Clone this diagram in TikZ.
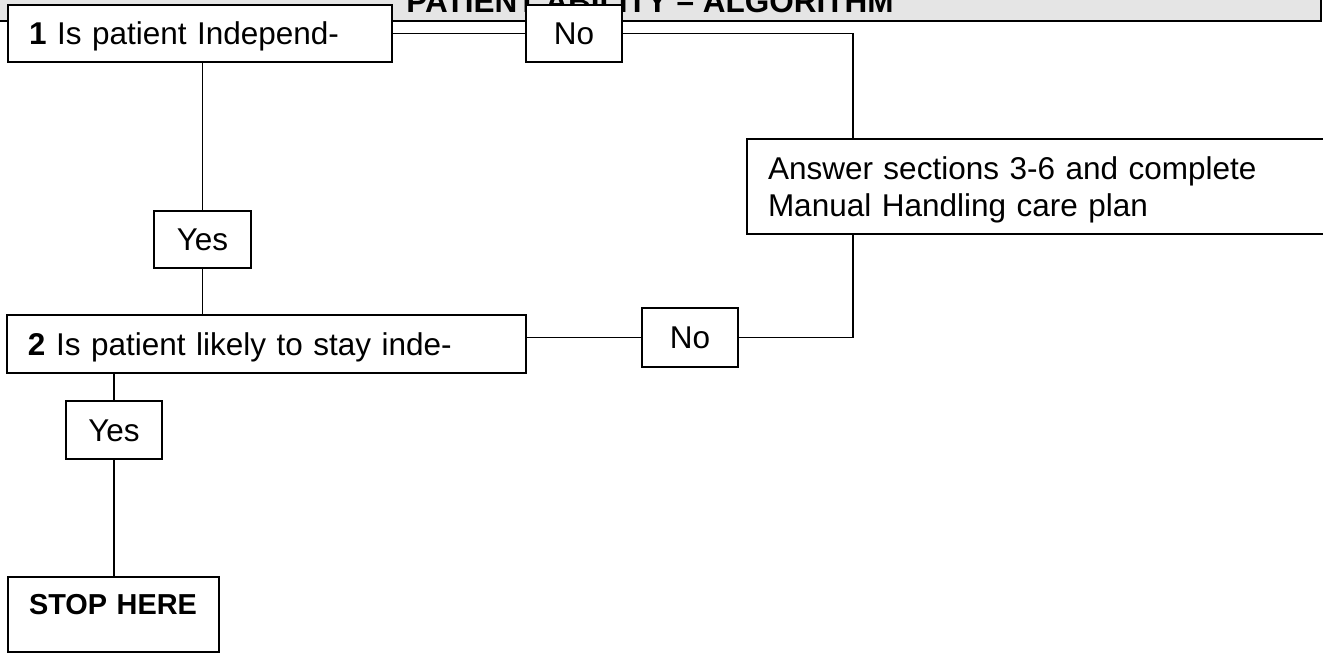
\documentclass[tikz,border=0pt]{standalone}
\usepackage{fontspec}
\setmainfont{Liberation Sans}
\usepackage{tikz}
\usetikzlibrary{positioning,calc}
\newcommand{\pxl}{0.381pt}

\begin{document}
\begin{tikzpicture}[x=0.381pt,y=-0.381pt]
    \tikzstyle{every node}=[font=\fontsize{12}{13.8}\selectfont]
    \tikzstyle{box}=[draw, line width=0.6pt, fill=white, inner xsep=21*\pxl, inner ysep=0pt]
    \tikzstyle{qbox}=[box, text height=8.6pt, text depth=0pt]
    \tikzstyle{link}=[line width=0.4pt]
    \clip (0,0) rectangle (1323,655); %
    \filldraw[fill=black!10, line width=1.1pt] (-20,-40) rectangle (1321,21); %
    \node[font=\fontsize{12}{14}\selectfont\bfseries, anchor=base, inner sep=0pt] (title) at (650,13) {PATIENT ABILITY -- ALGORITHM}; %
    \node[qbox, text width=342*\pxl, align=left, minimum height=57*\pxl] (q1) at (200,33.5) {\textbf{1} Is patient Independ-}; %
    \node[qbox, text width=54*\pxl, align=center, minimum height=57*\pxl] (no1) at (574,33.5) {No}; %
    \node[qbox, text width=55*\pxl, align=center, minimum height=57*\pxl] (yes1) at (202.5,239.5) {Yes}; %
    \node[qbox, text width=477*\pxl, align=left, minimum height=58*\pxl] (q2) at (266.5,344) {\textbf{2} Is patient likely to stay inde-}; %
    \node[qbox, text width=54*\pxl, align=center, minimum height=59*\pxl] (no2) at (690,337.5) {No}; %
    \node[box, text height=8.6pt, text depth=13.6pt, text width=551*\pxl, align=left, minimum height=95*\pxl] (ans) at (1043.5,186.5) {Answer sections 3-6 and complete\\Manual Handling care plan}; %
    \node[qbox, text width=54*\pxl, align=center, minimum height=58*\pxl] (yes2) at (114,430) {Yes}; %
    \node[box, font=\fontsize{11}{13}\selectfont\bfseries, text height=8pt, text depth=8pt, text width=169*\pxl, align=left, minimum height=75*\pxl] (stop) at (113.5,614.5) {STOP HERE}; %
    \coordinate (spine) at (853,0); %
    \draw[link] (q1) -- (no1); %
    \draw[link] (no1) -| (spine |- ans.north); %
    \draw[link] (spine |- ans.south) |- (no2); %
    \draw[link] (no2) -- (no2 -| q2.east); %
    \draw[link] (yes1 |- q1.south) -- (yes1); %
    \draw[link] (yes1) -- (yes1 |- q2.north); %
    \draw[link] (q2.south -| yes2) -- (yes2); %
    \draw[link] (yes2) -- (yes2 |- stop.north); %
\end{tikzpicture}
\end{document}
